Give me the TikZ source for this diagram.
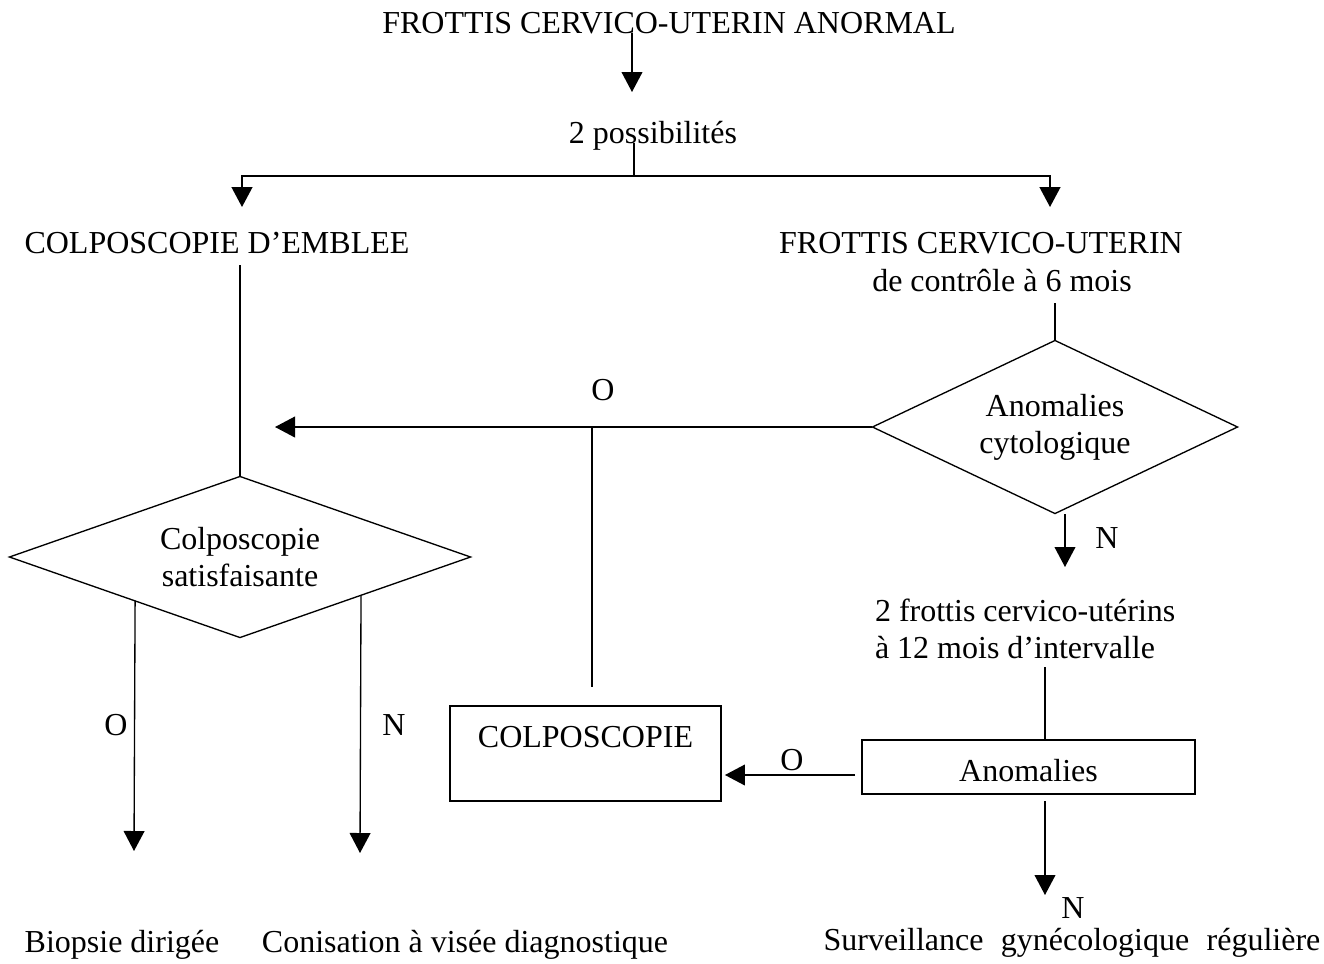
\documentclass[tikz,border=0pt]{standalone}
\usepackage{fontspec}
\setmainfont{Liberation Serif}
\usetikzlibrary{arrows.meta}
\usetikzlibrary{shapes.geometric}
\usetikzlibrary{calc}

\begin{document}
\begin{tikzpicture}[x=0.375pt,y=-0.375pt,
  -,>={Triangle[length=7.5pt,width=7.8pt]},line width=0.5pt,
  font=\fontsize{12pt}{13.8pt}\selectfont,
  txt/.style={inner sep=0pt,outer sep=0pt,anchor=base},
  box/.style={draw,rectangle,line width=0.75pt,inner xsep=0pt,inner ysep=0pt,outer sep=0pt,anchor=base},
  choice/.style={draw,diamond,inner sep=0pt,outer sep=0pt,align=center}]
      \useasboundingbox (0,0) rectangle (1324,963);

      % titles
      \node [txt] (title)  at (669,33)  {FROTTIS CERVICO-UTERIN ANORMAL};
      \node [txt] (poss)   at (653,143) {2 possibilités};
      \node [txt] (emblee) at (217,253) {COLPOSCOPIE D’EMBLEE};
      \node [txt] (fcu)    at (981,253) {FROTTIS CERVICO-UTERIN};
      \node [txt] (ctrl)   at (1002,291) {de contrôle à 6 mois};

      % decisions
      \node [choice,minimum width=172.9pt,minimum height=60.4pt,aspect=2.86] (dsat) at (240,557) {Colposcopie\\satisfaisante};
      \node [choice,minimum width=136.9pt,minimum height=64.9pt,aspect=2.11] (dcyto) at (1055,427) {Anomalies\\cytologique};
      \node [txt,anchor=west,align=left] (deux) at (875,629) {2 frottis cervico-utérins\\à 12 mois d’intervalle};

      % boxes
      \node [box,minimum width=101.6pt,text height=15.4pt,text depth=20.25pt] (colpo) at (585.5,747) {COLPOSCOPIE};
      \node [box,minimum width=124.9pt,text height=15.4pt,text depth=4.9pt] (anom) at (1028.5,781) {Anomalies};

      % results
      \node [txt] (biopsie) at (122,952) {Biopsie dirigée};
      \node [txt] (conis)   at (465,952) {Conisation à visée diagnostique};
      \node [txt] (surv)    at (1072,950) {Surveillance\hspace{3.5pt} gynécologique\hspace{3.5pt} régulière};

      % O / N
      \node [txt] (o1) at (603,400)  {O};
      \node [txt] (n1) at (1107,548) {N};
      \node [txt] (o2) at (116,735)  {O};
      \node [txt] (n2) at (394,735)  {N};
      \node [txt] (o3) at (792,770)  {O};
      \node [txt] (n3) at (1073,918) {N};

      \coordinate (a1)   at (632,92);
      \coordinate (fork) at (634,176);
      \coordinate (lt)   at (242,207);
      \coordinate (rt)   at (1050,207);
      \coordinate (e1)   at (240,265);
      \coordinate (hl)   at (275,427);
      \coordinate (j1)   at (592,427);
      \coordinate (j2)   at (592,687);
      \coordinate (c1)   at (1065,514);
      \coordinate (c2)   at (1065,567);
      \coordinate (bo)   at (134,851);
      \coordinate (bn)   at (360,853);
      \coordinate (c3)   at (1045,667);
      \coordinate (c4)   at (1045,895);

      \draw [->,line width=0.75pt] (fork) -| (lt);
      \draw [->,line width=0.75pt] (fork) -| (rt);

      \path
        (title.base -| a1)                 edge[->]  (a1)
        (poss.base -| fork)                edge      (fork)
        (e1)                               edge      (dsat.north)
        (dcyto.north |- 0,303)             edge      (dcyto.north)
        (dcyto.west)                       edge[->]  (hl)
        (j1)                               edge      (j2)
        (c1)                               edge[->]  (c2)
        ($(dsat.west)!0.545!(dsat.south)$) edge[->]  (bo)
        ($(dsat.east)!0.475!(dsat.south)$) edge[->]  (bn)
        (c3)                               edge      (c3 |- anom.north)
        (anom.south -| c3)                 edge[->,shorten <=2.6pt] (c4)
        (anom.west |- 0,775)               edge[->,shorten <=2.6pt,shorten >=1.5pt] (colpo.east |- 0,775);

\end{tikzpicture}
\end{document}
